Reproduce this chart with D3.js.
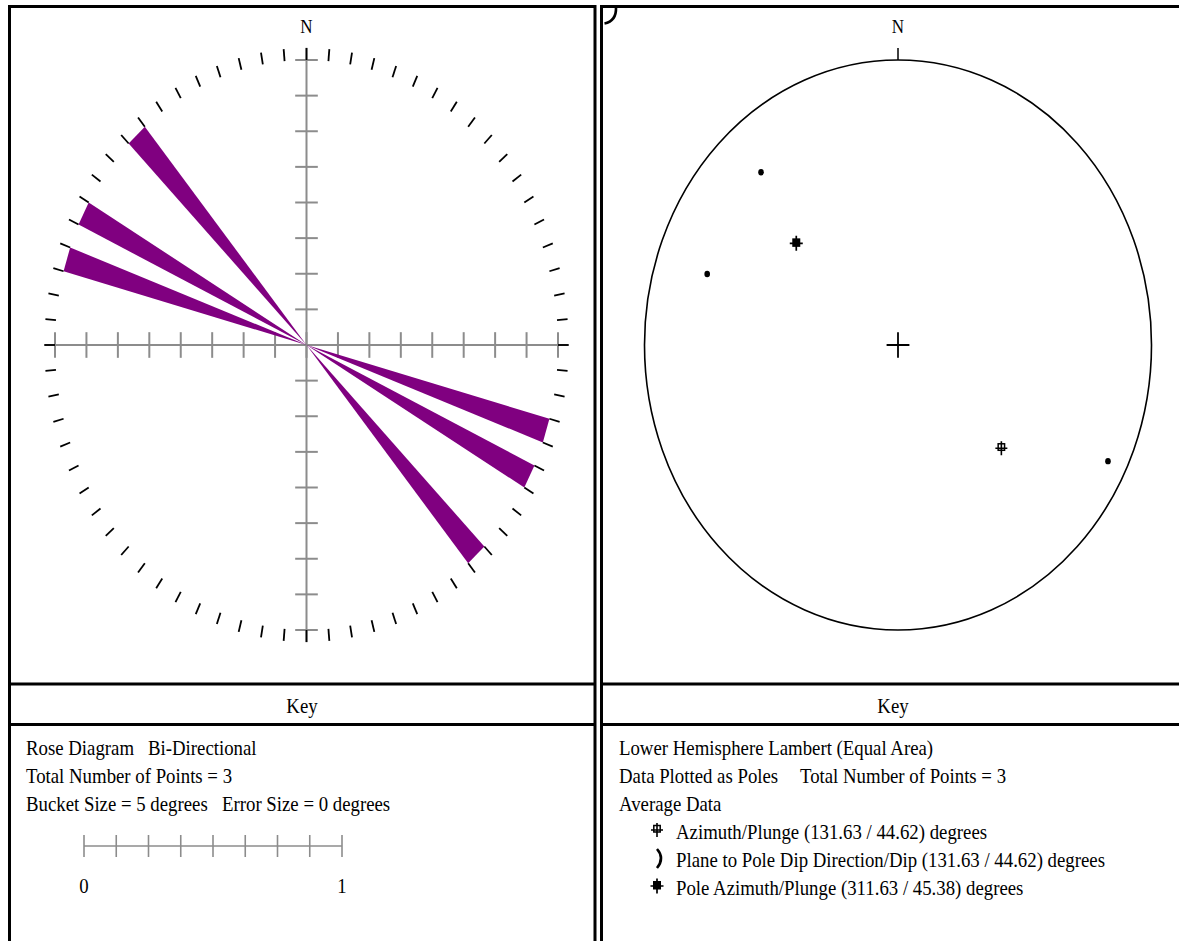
<!DOCTYPE html>
<html>
<head>
<meta charset="utf-8">
<script src="https://cdn.jsdelivr.net/npm/d3@7"></script>
<style>
  body { margin: 0; background: #fff; }
  text { font-family: "Liberation Serif", "Times New Roman", serif; fill: #000; }
</style>
</head>
<body>
<svg id="chart" width="1179" height="941"></svg>
<script>
// ---- Rose diagram data (bi-directional, 5 degree buckets) ----
const bucketSize = 5;
const roseBucketStart = [105, 115, 135];   // bucket start azimuth, degrees
const roseBucketCount = [1, 1, 1];         // points per bucket
const roseScaleTicks = [0, 1];             // key scale labels

// ---- Stereonet data: poles as trend / plunge (degrees) ----
const poleTrend  = [318.3, 288.3, 116.2];
const polePlunge = [19.9, 21.8, 8.5];

// Average data (trend / plunge)
const avgAzimuthPlunge = [131.63, 44.62];
const avgPoleAzPlunge  = [311.63, 45.38];
const avgPlaneDipDir   = [131.63, 44.62];

// Key texts
const roseKeyLines = [
  ["Rose Diagram", "Bi-Directional"],
  ["Total Number of Points = 3"],
  ["Bucket Size = 5 degrees", "Error Size = 0 degrees"]
];
const stereoKeyLines = [
  ["Lower Hemisphere Lambert (Equal Area)"],
  ["Data Plotted as Poles", "Total Number of Points = 3"],
  ["Average Data"]
];
const stereoKeyItems = [
  `Azimuth/Plunge (${avgAzimuthPlunge[0].toFixed(2)} / ${avgAzimuthPlunge[1].toFixed(2)}) degrees`,
  `Plane to Pole Dip Direction/Dip (${avgPlaneDipDir[0].toFixed(2)} / ${avgPlaneDipDir[1].toFixed(2)}) degrees`,
  `Pole Azimuth/Plunge (${avgPoleAzPlunge[0].toFixed(2)} / ${avgPoleAzPlunge[1].toFixed(2)}) degrees`
];

// ---- Layout ----
const svg = d3.select("#chart");
const SY = 1.15;             // vertical text stretch
const FS = 18.8;             // base font size
const rad = d => d * Math.PI / 180;

function label(x, y, str, size = FS, anchor = "start") {
  svg.append("text")
    .attr("transform", `translate(${x},${y}) scale(1,${SY})`)
    .attr("text-anchor", anchor)
    .style("font-size", size + "px")
    .text(str);
}

// Panel frames
const frame = svg.append("g").attr("fill", "none").attr("stroke", "#000").attr("stroke-width", 3);
frame.append("path").attr("d", "M9.5,945 V6.5 H595 V945");
frame.append("path").attr("d", "M601.5,945 V6.5 H1185");
[684, 724.5].forEach(y => {
  frame.append("line").attr("x1", 9.5).attr("x2", 595).attr("y1", y).attr("y2", y);
  frame.append("line").attr("x1", 601.5).attr("x2", 1185).attr("y1", y).attr("y2", y);
});

// ================= Rose diagram =================
const rose = { cx: 306.5, cy: 345, rx: 251.5, ry: 285 };
const rxS = d3.scaleLinear().domain([-1, 1]).range([rose.cx - rose.rx, rose.cx + rose.rx]);
const ryS = d3.scaleLinear().domain([-1, 1]).range([rose.cy + rose.ry, rose.cy - rose.ry]);
const rLen = d3.scaleLinear().domain([0, d3.max(roseBucketCount)]).range([0, 1]);
const px = (r, az) => rxS(r * Math.sin(rad(az)));
const py = (r, az) => ryS(r * Math.cos(rad(az)));

const roseG = svg.append("g");

// Axes with cross ticks
const axisG = roseG.append("g").attr("stroke", "#8c8c8c").attr("stroke-width", 2);
axisG.append("line").attr("x1", rxS(-1.043)).attr("x2", rxS(1.043)).attr("y1", ryS(0)).attr("y2", ryS(0));
axisG.append("line").attr("x1", rxS(0)).attr("x2", rxS(0)).attr("y1", ryS(1.043)).attr("y2", ryS(-1.043));
const axisTicks = d3.range(-8, 9).map(i => i / 8);
axisG.selectAll(".hx").data(axisTicks).join("line")
  .attr("x1", d => rxS(d)).attr("x2", d => rxS(d))
  .attr("y1", ryS(0.045)).attr("y2", ryS(-0.045));
axisG.selectAll(".vy").data(axisTicks).join("line")
  .attr("y1", d => ryS(d)).attr("y2", d => ryS(d))
  .attr("x1", rxS(-0.045)).attr("x2", rxS(0.045));

// Petals (each bucket and its opposite)
const petals = [];
roseBucketStart.forEach((s, i) => {
  petals.push({ a0: s, a1: s + bucketSize, n: roseBucketCount[i] });
  petals.push({ a0: s + 180, a1: s + 180 + bucketSize, n: roseBucketCount[i] });
});
const petalLine = d3.line().x(d => px(d[0], d[1])).y(d => py(d[0], d[1]));
roseG.append("g").selectAll("path").data(petals).join("path")
  .attr("fill", "#800080")
  .attr("d", d => petalLine([[0, d.a0], [rLen(d.n), d.a0], [rLen(d.n), d.a1], [0, d.a1]]) + "Z");

// Outer ring ticks every 5 degrees
roseG.append("g").attr("stroke", "#000").attr("stroke-width", 1.8)
  .selectAll("line").data(d3.range(0, 360, 5)).join("line")
  .attr("x1", d => px(1.0, d)).attr("y1", d => py(1.0, d))
  .attr("x2", d => px(1.042, d)).attr("y2", d => py(1.042, d));

label(rose.cx, 33, "N", 17, "middle");

// ================= Stereonet =================
const st = { cx: 898, cy: 345, rx: 253.5, ry: 285 };
const sxS = d3.scaleLinear().domain([-1, 1]).range([st.cx - st.rx, st.cx + st.rx]);
const syS = d3.scaleLinear().domain([-1, 1]).range([st.cy + st.ry, st.cy - st.ry]);
// Lambert equal-area, lower hemisphere
const lambertR = plunge => Math.SQRT2 * Math.sin(rad(90 - plunge) / 2);
const sx = (tr, pl) => sxS(lambertR(pl) * Math.sin(rad(tr)));
const sy = (tr, pl) => syS(lambertR(pl) * Math.cos(rad(tr)));

const stG = svg.append("g");
stG.append("ellipse").attr("cx", st.cx).attr("cy", st.cy).attr("rx", st.rx).attr("ry", st.ry)
  .attr("fill", "none").attr("stroke", "#000").attr("stroke-width", 1.6);
stG.append("line").attr("x1", sxS(0)).attr("x2", sxS(0)).attr("y1", syS(1)).attr("y2", syS(1.042))
  .attr("stroke", "#000").attr("stroke-width", 1.5);
// centre cross
stG.append("path").attr("stroke", "#000").attr("stroke-width", 1.8)
  .attr("d", `M${sxS(-0.045)},${syS(0)}H${sxS(0.045)}M${sxS(0)},${syS(0.045)}V${syS(-0.045)}`);
label(st.cx, 33, "N", 17, "middle");

// Poles
stG.selectAll(".pole").data(poleTrend.map((t, i) => [t, polePlunge[i]])).join("ellipse")
  .attr("cx", d => sx(d[0], d[1])).attr("cy", d => sy(d[0], d[1]))
  .attr("rx", 2.8).attr("ry", 3.2).attr("fill", "#000");

// Average symbols
function openSym(g, x, y) {
  g.append("path").attr("stroke", "#000").attr("stroke-width", 1.6).attr("fill", "none")
    .attr("d", `M${x - 6},${y}H${x + 6}M${x},${y - 7}V${y + 7}`);
  g.append("rect").attr("x", x - 3.2).attr("y", y - 4.5).attr("width", 6.4).attr("height", 6.5)
    .attr("fill", "none").attr("stroke", "#000").attr("stroke-width", 1.5);
}
function filledSym(g, x, y) {
  g.append("path").attr("stroke", "#000").attr("stroke-width", 1.7).attr("fill", "none")
    .attr("d", `M${x - 6.5},${y}H${x + 6.5}M${x},${y - 7.5}V${y + 7.5}`);
  g.append("rect").attr("x", x - 4).attr("y", y - 5).attr("width", 8).attr("height", 8.5)
    .attr("fill", "#000");
}
openSym(stG, sx(...avgAzimuthPlunge), sy(...avgAzimuthPlunge));
filledSym(stG, sx(...avgPoleAzPlunge), sy(...avgPoleAzPlunge));
// plane-to-pole marker
stG.append("path").attr("fill", "none").attr("stroke", "#000").attr("stroke-width", 2.6)
  .attr("d", "M616,7.5 Q616.5,21 604.5,23.5");

// ================= Keys =================
label(302, 713, "Key", FS, "middle");
label(893, 713, "Key", FS, "middle");

// Rose key text
const lineY = [755, 783, 811];
label(26, lineY[0], roseKeyLines[0][0]);
label(148, lineY[0], roseKeyLines[0][1]);
label(26, lineY[1], roseKeyLines[1][0]);
label(26, lineY[2], roseKeyLines[2][0]);
label(222, lineY[2], roseKeyLines[2][1]);

// Rose scale bar
const keyScale = d3.scaleLinear().domain([0, 1]).range([84, 342]);
const sb = svg.append("g").attr("stroke", "#8c8c8c").attr("stroke-width", 1.6);
sb.append("line").attr("x1", keyScale(0)).attr("x2", keyScale(1)).attr("y1", 846).attr("y2", 846);
sb.selectAll(".t").data(d3.range(0, 9).map(i => i / 8)).join("line")
  .attr("x1", d => keyScale(d)).attr("x2", d => keyScale(d)).attr("y1", 835).attr("y2", 857);
roseScaleTicks.forEach(v => label(keyScale(v), 893, String(v), FS, "middle"));

// Stereonet key text
label(619, lineY[0], stereoKeyLines[0][0]);
label(619, lineY[1], stereoKeyLines[1][0]);
label(800, lineY[1], stereoKeyLines[1][1]);
label(619, lineY[2], stereoKeyLines[2][0]);
const itemY = [839, 867, 895];
stereoKeyItems.forEach((s, i) => label(676, itemY[i], s));
const keyG = svg.append("g");
openSym(keyG, 657, itemY[0] - 9);
keyG.append("path").attr("fill", "none").attr("stroke", "#000").attr("stroke-width", 2.6)
  .attr("d", `M657,${itemY[1] - 18} Q665,${itemY[1] - 9} 657,${itemY[1] + 1}`);
filledSym(keyG, 657, itemY[2] - 9);
</script>
</body>
</html>
